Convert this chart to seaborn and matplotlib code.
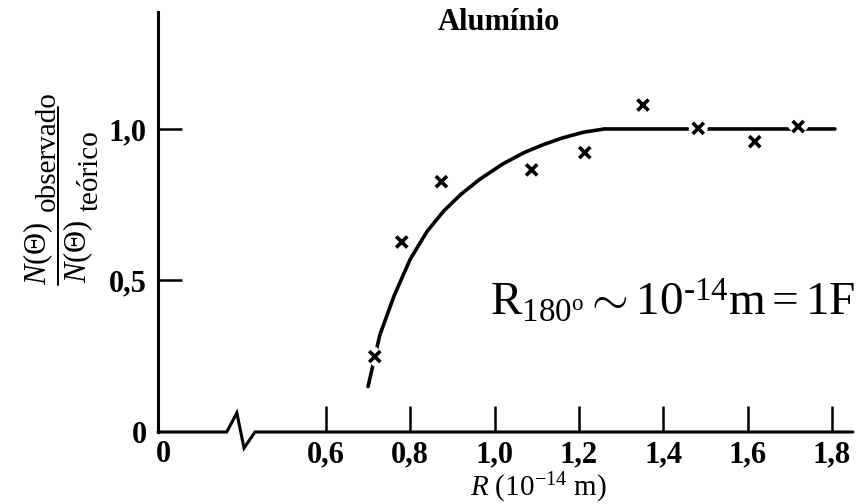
import matplotlib
matplotlib.use("Agg")
import matplotlib.pyplot as plt
import matplotlib.patheffects as pe
from matplotlib.lines import Line2D
import pandas as pd
import seaborn as sns

# Observed / theoretical counts versus distance of closest approach (aluminium target)
r_obs = [0.716, 0.780, 0.874, 1.088, 1.214, 1.352, 1.483, 1.617, 1.720]
ratio_obs = [0.249, 0.627, 0.826, 0.865, 0.922, 1.079, 1.002, 0.958, 1.008]

# Hand-drawn trend curve through the measurements
r_curve = [0.700, 0.728, 0.762, 0.800, 0.840, 0.880, 0.920, 0.965, 1.020, 1.070,
           1.115, 1.160, 1.210, 1.260, 1.447, 1.807]
ratio_curve = [0.150, 0.320, 0.450, 0.570, 0.662, 0.730, 0.784, 0.834, 0.885, 0.922,
               0.948, 0.970, 0.989, 1.000, 1.000, 1.000]

# Axis ticks and labels (decimal comma)
x_ticks = [0.6, 0.8, 1.0, 1.2, 1.4, 1.6, 1.8]
x_tick_labels = ["0,6", "0,8", "1,0", "1,2", "1,4", "1,6", "1,8"]
y_ticks = [0.0, 0.5, 1.0]
y_tick_labels = ["0", "0,5", "1,0"]

title = "Alumínio"
x_label = r"$R\ (10^{-14}\ \mathrm{m})$"
num_main, num_sub = r"$N(\Theta)$", "observado"
den_main, den_sub = r"$N(\Theta)$", "teórico"
note = r"$\mathrm{R}_{180^{\mathrm{o}}} \sim 10^{\text{-14}}\mathrm{m} = 1\mathrm{F}$"

obs = pd.DataFrame({"R": r_obs, "ratio": ratio_obs})
curve = pd.DataFrame({"R": r_curve, "ratio": ratio_curve})

sns.set_theme(style="ticks")
plt.rcParams["font.family"] = ["Liberation Serif", "DejaVu Serif"]
plt.rcParams["mathtext.fontset"] = "custom"
plt.rcParams["mathtext.rm"] = "Liberation Serif"
plt.rcParams["mathtext.it"] = "Liberation Serif:italic"
plt.rcParams["mathtext.bf"] = "Liberation Serif:bold"
for key in ["text.color", "axes.labelcolor", "xtick.color", "ytick.color", "axes.edgecolor"]:
    plt.rcParams[key] = "black"

W, H = 868, 504
fig = plt.figure(figsize=(W / 100, H / 100), dpi=100)
fig.patch.set_facecolor("white")

# axes box in pixels: left 158, right 853, bottom 432, top 12
ax = fig.add_axes([158 / W, 1 - 432 / H, (853 - 158) / W, (432 - 12) / H])
ax.set_facecolor("white")

x0 = 0.202  # left edge of the broken x axis (stands for R = 0)
ax.set_xlim(x0, 1.85)
ax.set_ylim(0, 1.386)

sns.lineplot(data=curve, x="R", y="ratio", ax=ax, color="black", lw=2.6,
             sort=False, estimator=None, zorder=2,
             solid_joinstyle="round", solid_capstyle="round")
sns.scatterplot(data=obs, x="R", y="ratio", ax=ax, marker="x", s=64,
                color="black", linewidth=2.6, zorder=3)
ax.collections[-1].set_path_effects([pe.Stroke(linewidth=9, foreground="white"), pe.Normal()])

# spines
for side in ["top", "right", "bottom"]:
    ax.spines[side].set_visible(False)
ax.spines["left"].set_linewidth(2.2)

# bottom axis drawn by hand with a break mark
bx = [x0, 0.365, 0.389, 0.406, 0.432, 1.85]
by = [0.0, 0.0, 0.063, -0.053, 0.0, 0.0]
ax.plot(bx, by, color="black", lw=2.2, clip_on=False, solid_joinstyle="miter", zorder=4)

tick_font = dict(family="Liberation Serif", weight="bold", size=22)
ax.set_xticks([x0 + 0.014] + x_ticks)
ax.set_xticklabels(["0"] + x_tick_labels, **tick_font)
ax.set_yticks(y_ticks)
ax.set_yticklabels(y_tick_labels, **tick_font)
ax.tick_params(axis="x", direction="in", length=19, width=1.8, pad=6)
ax.tick_params(axis="y", direction="in", length=17, width=1.8, pad=8)
ax.xaxis.get_major_ticks()[0].tick1line.set_visible(False)
ax.yaxis.get_major_ticks()[0].tick1line.set_visible(False)
ax.set_xlabel("")
ax.set_ylabel("")

# x label
fig.text(538 / W, 1 - 496 / H, x_label, ha="center", va="baseline", fontsize=21)

# title
fig.text(499 / W, 1 - 22 / H, title, ha="center", va="center",
         fontsize=22, fontweight="bold")

# y label as a fraction (rotated, reading upwards)
rot = dict(rotation=90, rotation_mode="anchor", ha="left", va="baseline")
fig.text(46 / W, 1 - 285 / H, num_main, fontsize=22, **rot)
fig.text(55 / W, 1 - 211 / H, num_sub, fontsize=21, **rot)
fig.add_artist(Line2D([58 / W, 58 / W], [1 - 107 / H, 1 - 285 / H],
                      transform=fig.transFigure, color="black", lw=1.4))
fig.text(86 / W, 1 - 283 / H, den_main, fontsize=22, **rot)
fig.text(98 / W, 1 - 211 / H, den_sub, fontsize=21, **rot)

# note on the nuclear radius
fig.text(490 / W, 1 - 315 / H, note, ha="left", va="baseline", fontsize=34)

fig.savefig("out.png", dpi=100, facecolor="white")
